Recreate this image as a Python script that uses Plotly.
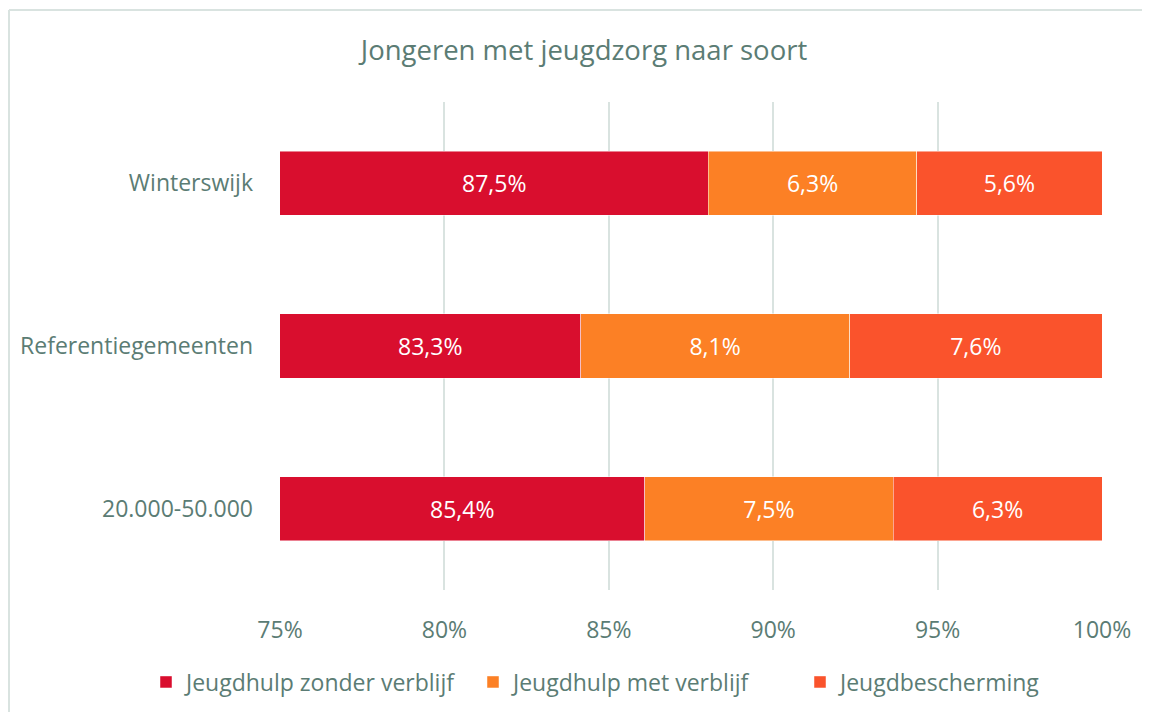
import plotly.graph_objects as go

categories = ["Winterswijk", "Referentiegemeenten", "20.000-50.000"]
series_names = ["Jeugdhulp zonder verblijf", "Jeugdhulp met verblijf", "Jeugdbescherming"]
zonder_verblijf = [87.5, 83.3, 85.4]
met_verblijf = [6.3, 8.1, 7.5]
bescherming = [5.6, 7.6, 6.3]
tick_values = [75, 80, 85, 90, 95, 100]
tick_labels = ["75%", "80%", "85%", "90%", "95%", "100%"]

colors = ["#D90E2E", "#FC8025", "#FA532C"]
text_color = "#5B7C74"
grid_color = "#D9E3E0"
font_family = "Open Sans, Noto Sans, DejaVu Sans, sans-serif"
FS = 23


def fmt(v):
    return f"{v:.1f}%".replace(".", ",")


all_series = [zonder_verblijf, met_verblijf, bescherming]
fig = go.Figure()
for i, (name, vals, col) in enumerate(zip(series_names, all_series, colors)):
    fig.add_trace(go.Bar(
        y=categories, x=vals, name=name, orientation="h",
        marker=dict(color=col, line=dict(color="rgba(255,255,255,0.6)", width=0.8)),
        text=None if i == 0 else [fmt(v) for v in vals],
        textposition="inside", insidetextanchor="middle",
        textfont=dict(color="white", size=FS, family=font_family),
        hoverinfo="skip",
    ))

# labels of the first segment, centred on its visible part (axis starts at 75%)
x_min = tick_values[0]
for cat, vals in zip(categories, zip(*all_series)):
    share = vals[0] / sum(vals) * 100
    fig.add_annotation(x=(x_min + share) / 2, y=cat, xref="x", yref="y",
                       text=fmt(vals[0]), showarrow=False,
                       font=dict(color="white", size=FS, family=font_family))

OFF = 8  # page body margin
W, H = 1150 - OFF, 712
L, R, T, B = 280 - OFF, W - (1102 - OFF), 102 - OFF, H - (590 - OFF)
pw, ph = W - L - R, H - T - B


def px_x(p):
    return (p - OFF - L) / pw


def px_y(p):
    return (H - B - (p - OFF)) / ph


fig.update_layout(
    width=W, height=H, autosize=False,
    barmode="stack", barnorm="percent", bargap=0.606,
    margin=dict(l=L, r=R, t=T, b=B),
    paper_bgcolor="white", plot_bgcolor="white",
    font=dict(family=font_family, color=text_color, size=FS),
    title=dict(text="Jongeren met jeugdzorg naar soort", x=(584 - OFF) / W, xref="container",
               y=1 - (50 - OFF) / H, yref="container", xanchor="center", yanchor="middle",
               font=dict(size=27.5, color=text_color, family=font_family)),
    xaxis=dict(range=[75, 100], tickvals=tick_values, ticktext=tick_labels, showgrid=True,
               gridcolor=grid_color, gridwidth=2, zeroline=False, showline=False,
               tickfont=dict(size=FS, color=text_color), ticks="", ticklabelstandoff=24),
    yaxis=dict(autorange="reversed", showgrid=False, showline=False, ticks="",
               ticklabelstandoff=26, tickfont=dict(size=FS, color=text_color)),
    legend=dict(orientation="h", x=px_x(146), xref="paper", xanchor="left",
                y=px_y(682), yref="paper", yanchor="middle",
                font=dict(size=FS, color=text_color), traceorder="normal",
                itemclick=False, itemwidth=30,
                entrywidth=282, entrywidthmode="pixels"),
    showlegend=True,
)

# chart-area border (left and top edges visible)
fig.add_shape(type="line", xref="paper", yref="paper", x0=px_x(9), x1=px_x(1200),
              y0=px_y(10), y1=px_y(10), line=dict(color=grid_color, width=2))
fig.add_shape(type="line", xref="paper", yref="paper", x0=px_x(9), x1=px_x(9),
              y0=px_y(10), y1=px_y(760), line=dict(color=grid_color, width=2))

fig.write_html("out.html")
